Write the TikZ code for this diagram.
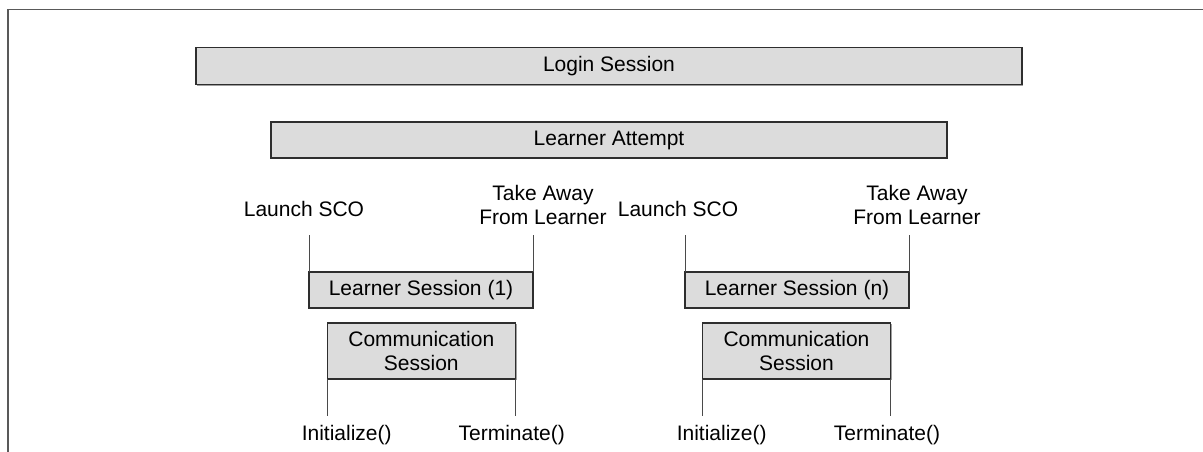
\documentclass[tikz,border=0pt]{standalone}
\usepackage{fontspec}
\setmainfont{Liberation Sans}
\usetikzlibrary{shadows}
\definecolor{boxfill}{HTML}{DCDCDC}
\definecolor{edge}{HTML}{2E2E2E}
\definecolor{tick}{HTML}{4A4A4A}
\tikzset{
  sessionbox/.style={draw=edge, line width=1.1pt, fill=boxfill, inner sep=0pt, outer sep=0pt,
    align=center, font=\fontsize{21}{24.5}\selectfont,
    drop shadow={shadow xshift=1.2pt, shadow yshift=-1.2pt, fill=gray!75, opacity=1}},
  eventlabel/.style={inner sep=0pt, align=center, font=\fontsize{21}{23.5}\selectfont},
  tickline/.style={draw=tick, line width=0.9pt},
  frameline/.style={draw=gray!70!black, line width=1.8pt}
}
\begin{document}
\begin{tikzpicture}[x=1pt, y=-1pt]
  \useasboundingbox (0,0) rectangle (1203,452);

  % open frame: top and left edges only
  \coordinate (frameTL) at (8,9.5);
  \coordinate (frameTR) at (1203,9.5);
  \coordinate (frameBL) at (8,452);
  \draw[frameline] (frameTR) -- (frameTL) -- (frameBL);

  % nested session bars
  \node[sessionbox, minimum width=826pt, minimum height=37pt] (login) at (609,66) {\raisebox{-1.5pt}{Login Session}};
  \node[sessionbox, minimum width=676pt, minimum height=36pt] (attempt) at (609,140) {\raisebox{-1.5pt}{Learner Attempt}};

  % learner sessions
  \node[sessionbox, minimum width=224pt, minimum height=36pt] (ls1) at (421,290) {\raisebox{-1.5pt}{Learner Session (1)}};
  \node[sessionbox, minimum width=224pt, minimum height=36pt] (lsn) at (797,290) {\raisebox{-1.5pt}{Learner Session (n)}};

  % communication sessions
  \node[sessionbox, minimum width=188pt, minimum height=56pt] (cs1) at (421.3,351) {Communication\\Session};
  \node[sessionbox, minimum width=188pt, minimum height=56pt] (csn) at (796.5,351) {Communication\\Session};

  % event labels, learner session 1
  \node[eventlabel] (launch1) at (304,209) {Launch SCO};
  \node[eventlabel] (take1) at (543,205) {Take Away\\From Learner};
  \coordinate (launch1end) at (309,235);
  \coordinate (take1end) at (533,235);
  \draw[tickline] (launch1end) -- (ls1.north west);
  \draw[tickline] (take1end) -- (ls1.north east);

  % event labels, learner session n
  \node[eventlabel] (launchn) at (678,209) {Launch SCO};
  \node[eventlabel] (taken) at (917,205) {Take Away\\From Learner};
  \coordinate (launchnend) at (685,235);
  \coordinate (takenend) at (909,235);
  \draw[tickline] (launchnend) -- (lsn.north west);
  \draw[tickline] (takenend) -- (lsn.north east);

  % API calls, communication session 1
  \node[eventlabel] (init1) at (346.7,435) {Initialize()};
  \node[eventlabel] (term1) at (511.7,435) {Terminate()};
  \coordinate (init1end) at (327.3,416);
  \coordinate (term1end) at (515.3,416);
  \draw[tickline] (cs1.south west) -- (init1end);
  \draw[tickline] (cs1.south east) -- (term1end);

  % API calls, communication session n
  \node[eventlabel] (initn) at (721.7,435) {Initialize()};
  \node[eventlabel] (termn) at (887,435) {Terminate()};
  \coordinate (initnend) at (702.5,416);
  \coordinate (termnend) at (890.5,416);
  \draw[tickline] (csn.south west) -- (initnend);
  \draw[tickline] (csn.south east) -- (termnend);
\end{tikzpicture}
\end{document}
